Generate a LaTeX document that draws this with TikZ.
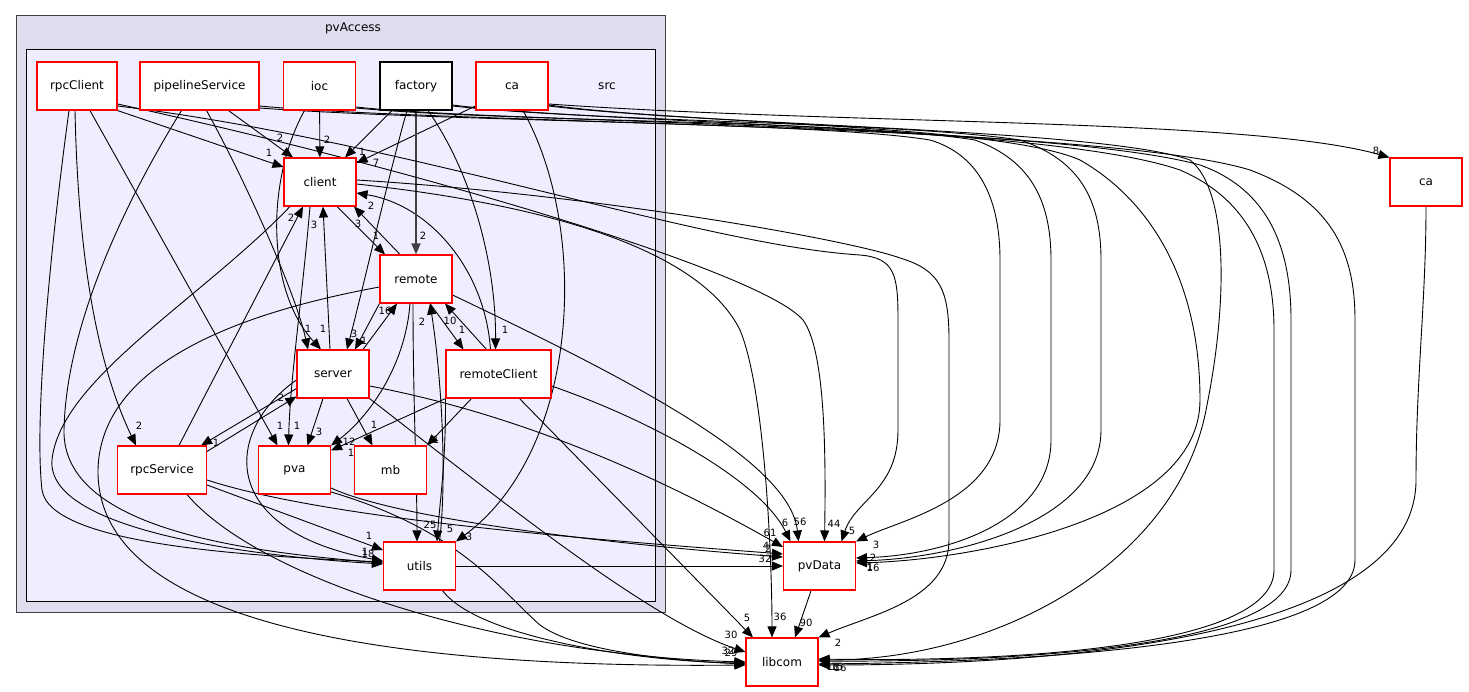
\documentclass[tikz,border=0pt]{standalone}
\usepackage{fontspec}
\setmainfont{DejaVu Sans}
\usetikzlibrary{arrows.meta}

\definecolor{clusterouter}{HTML}{DDDDEE}
\definecolor{clusterinner}{HTML}{EEEEFF}
\definecolor{boxred}{HTML}{FF0000}

\pgfdeclarelayer{bg}
\pgfdeclarelayer{edges}
\pgfsetlayers{bg,edges,main}

\tikzset{
  dirbox/.style={draw=boxred, fill=white, line width=1.1pt, minimum width=72pt, minimum height=48pt, inner sep=0pt, font=\fontsize{12}{14}\selectfont},
  dep/.style={line width=0.9pt, -{Triangle[length=11pt,width=9pt]}},
  thickdep/.style={dep, line width=1.6pt, draw=black!75},
  lbl/.style={font=\fontsize{10}{12}\selectfont, inner sep=0pt},
  clusterlbl/.style={font=\fontsize{12}{14}\selectfont, inner sep=0pt}
}

\begin{document}
\begin{tikzpicture}[x=1pt,y=-1pt]
\useasboundingbox (0,0) rectangle (1469,692);

\begin{pgfonlayer}{bg}
\draw[fill=clusterouter, draw=black!75, line width=1pt] (16,16) rectangle (665,612);
\draw[fill=clusterinner, draw=black, line width=1pt] (26,50) rectangle (655,601);
\end{pgfonlayer}
\node[clusterlbl] (pvAccessLabel) at (353,28) {pvAccess};
\node[clusterlbl] (srcLabel) at (607,86) {src};

\node[dirbox, minimum width=80pt] (rpcClient) at (77,86) {rpcClient};
\node[dirbox, minimum width=119pt] (pipelineService) at (199.5,86) {pipelineService};
\node[dirbox] (ioc) at (319.5,86) {ioc};
\node[dirbox, draw=black] (factory) at (416,86) {factory};
\node[dirbox] (caSrc) at (512,86) {ca};
\node[dirbox] (client) at (320,182) {client};
\node[dirbox] (remote) at (416,279) {remote};
\node[dirbox] (server) at (333,374) {server};
\node[dirbox, minimum width=105pt] (remoteClient) at (498.5,374) {remoteClient};
\node[dirbox, minimum width=89pt] (rpcService) at (162,470) {rpcService};
\node[dirbox] (pva) at (294.5,470) {pva};
\node[dirbox] (mb) at (390.5,470) {mb};
\node[dirbox] (utils) at (419.5,566) {utils};
\node[dirbox] (pvData) at (819.5,566) {pvData};
\node[dirbox] (libcom) at (782,662) {libcom};
\node[dirbox] (caTop) at (1426,182) {ca};

\begin{pgfonlayer}{edges}
\draw[dep] (rpcClient.south east) -- ([yshift=15]client.west) node[lbl] at (269,153) {1};
\draw[dep] ([xshift=29]pipelineService.south) -- ([xshift=-27]client.north) node[lbl] at (280,138) {2};
\draw[dep] (ioc) -- (client) node[lbl] at (327,140) {2};
\draw[dep] ([xshift=-24]factory.south) -- ([xshift=25]client.north) node[lbl] at (362,152) {1};
\draw[dep] ([yshift=-20]caSrc.west) -- ([yshift=19]client.east) node[lbl] at (376,163) {7};
\draw[dep] ([xshift=-8]remoteClient.north) .. controls (485,270) and (430,205) .. ([yshift=-11]client.east) node[lbl] at (371,206) {2};
\draw[dep] ([xshift=17]rpcService.north) -- ([xshift=-17]client.south) node[lbl] at (291,218) {2};
\draw[dep] ([xshift=-3]server.north) -- ([xshift=3]client.south) node[lbl] at (314,225) {3};
\draw[dep] ([xshift=-16]remote.north) -- ([xshift=34]client.south) node[lbl] at (358,224) {3};
\draw[dep] ([xshift=17]client.south) -- ([xshift=-31]remote.north) node[lbl] at (376,236) {1};
\draw[thickdep] (factory) -- (remote) node[lbl] at (423,236) {2};

\draw[dep] ([xshift=7]pipelineService.south) .. controls (240,170) and (295,290) .. ([xshift=-25]server.north) node[lbl] at (308,329) {1};
\draw[dep] ([xshift=-15]ioc.south) .. controls (266,180) and (266,290) .. ([xshift=-12]server.north) node[lbl] at (323,329) {1};
\draw[dep] ([xshift=-9]factory.south) .. controls (390,170) and (365,280) .. ([xshift=14]server.north) node[lbl] at (354,334) {3};
\draw[dep] (remote.south west) -- ([xshift=22]server.north) node[lbl] at (364,341) {1};
\draw[dep] ([xshift=30]server.north) -- ([xshift=-19]remote.south) node[lbl] at (385,311) {16};
\draw[dep] ([yshift=-6]rpcService.north east) -- ([yshift=2]server.south west) node[lbl] at (281,398) {2};
\draw[dep] ([yshift=10]server.south west) -- ([xshift=-6]rpcService.north east) node[lbl] at (216,443) {1};

\draw[dep] ([xshift=14]remote.south) -- ([xshift=-35]remoteClient.north) node[lbl] at (462,330) {1};
\draw[dep] ([xshift=-12]remoteClient.north) -- ([xshift=29]remote.south) node[lbl] at (450,321) {10};
\draw[dep] ([xshift=12]factory.south) .. controls (470,170) and (496,260) .. ([xshift=-3]remoteClient.north) node[lbl] at (505,330) {1};

\draw[dep] ([xshift=-2]rpcClient.south) .. controls (78,250) and (95,360) .. ([xshift=-26]rpcService.north) node[lbl] at (139,426) {2};
\draw[dep] ([xshift=13]rpcClient.south) -- ([xshift=-17]pva.north) node[lbl] at (280,426) {1};
\draw[dep] ([xshift=-10]client.south) .. controls (302,300) and (290,380) .. ([xshift=-6]pva.north) node[lbl] at (297,426) {1};
\draw[dep] ([xshift=-10]server.south) -- ([xshift=13]pva.north) node[lbl] at (319,432) {3};
\draw[dep] ([xshift=-6]remote.south) .. controls (405,370) and (365,420) .. (pva.north east) node[lbl] at (349,442) {12};
\draw[dep] (remoteClient.south west) -- ([yshift=-5]pva.north east) node[lbl] at (351,453) {1};
\draw[dep] ([xshift=14]server.south) -- ([xshift=-18]mb.north) node[lbl] at (374,425) {1};
\draw[dep] ([xshift=-27]remoteClient.south) -- (mb.north east) node[lbl] at (436,440) {1};

\draw[dep] ([xshift=-3]remote.south) .. controls (413,400) and (417,480) .. ([xshift=-2.5]utils.north) node[lbl] at (430,525) {25};
\draw[dep] (remoteClient.south west) .. controls (446,460) and (440,500) .. ([xshift=17.5]utils.north) node[lbl] at (450,529) {5};
\draw[dep] ([xshift=20]utils.north) .. controls (447,480) and (442,380) .. ([xshift=14]remote.south) node[lbl] at (422,322) {2};
\draw[dep] ([xshift=11]caSrc.south) .. controls (590,230) and (580,450) .. (utils.north east) node[lbl] at (469,537) {3};
\draw[dep] ([yshift=-15]rpcService.east) -- ([yshift=16]utils.west) node[lbl] at (369,536) {1};
\draw[dep] ([xshift=-8]rpcClient.south) .. controls (50,250) and (34,420) .. (42,490) .. controls (50,545) and (250,556) .. ([yshift=4]utils.west) node[lbl] at (365,552) {1};
\draw[dep] ([xshift=-18]pipelineService.south) .. controls (120,210) and (66,330) .. (64,430) .. controls (62,530) and (250,552) .. ([yshift=3]utils.west);
\draw[dep] ([xshift=-30]client.south) .. controls (200,300) and (60,380) .. (52,460) .. controls (46,530) and (250,556) .. ([yshift=2]utils.west) node[lbl] at (368,554) {18};
\draw[dep] ([yshift=-6]server.west) .. controls (225,430) and (215,530) .. ([yshift=5]utils.west);

\draw[dep] ([yshift=-12]server.east) .. controls (550,420) and (700,500) .. ([yshift=19]pvData.west) node[lbl] at (770,533) {61};
\draw[dep] ([yshift=-12]remoteClient.east) .. controls (650,420) and (760,480) .. ([xshift=-29]pvData.north) node[lbl] at (785,523) {6};
\draw[dep] ([yshift=-16]remote.east) .. controls (620,375) and (790,460) .. ([xshift=-21]pvData.north) node[lbl] at (800,522) {56};
\draw[dep] ([yshift=-10]rpcService.east) .. controls (330,520) and (600,540) .. ([yshift=12]pvData.west) node[lbl] at (766,546) {4};
\draw[dep] ([yshift=-18]pva.east) .. controls (400,520) and (620,545) .. ([yshift=9]pvData.west) node[lbl] at (768,549) {2};
\draw[dep] (utils) -- (pvData) node[lbl] at (765,559) {32};
\draw[dep] ([yshift=-20]rpcClient.east) .. controls (400,140) and (700,245) .. (860,255) .. controls (895,258) and (898,275) .. (898,320) -- (898,430) .. controls (898,490) and (855,500) .. ([xshift=22]pvData.north) node[lbl] at (852,531) {5};
\draw[dep] ([yshift=-18]rpcClient.east) .. controls (400,165) and (760,270) .. (803,320) .. controls (825,350) and (826,450) .. ([xshift=5]pvData.north) node[lbl] at (834,524) {44};

\draw[dep] ([yshift=2]client.east) .. controls (600,195) and (850,240) .. (900,258) .. controls (940,270) and (949,290) .. (949,340) -- (949,540) .. controls (949,600) and (870,615) .. (libcom.north east) node[lbl] at (838,643) {2};
\draw[dep] ([yshift=-2]client.east) .. controls (550,205) and (700,250) .. (740,330) .. controls (765,390) and (772,560) .. ([xshift=-10]libcom.north) node[lbl] at (780,617) {36};
\draw[dep] ([xshift=21]remoteClient.south) -- ([xshift=-29]libcom.north) node[lbl] at (747,618) {5};
\draw[dep] (pvData) -- ([xshift=13]libcom.north) node[lbl] at (806,623) {90};
\draw[dep] (server.south east) .. controls (500,500) and (650,620) .. ([yshift=10]libcom.west) node[lbl] at (731,635) {30};
\draw[dep] ([xshift=25]rpcService.south) .. controls (260,580) and (500,655) .. (libcom.west) node[lbl] at (728,651) {32};
\draw[dep] ([yshift=-22]pva.east) .. controls (460,530) and (500,590) .. (540,625) .. controls (580,655) and (700,662) .. ([yshift=-2]libcom.west) node[lbl] at (731,653) {29};
\draw[dep] ([xshift=23]utils.south) .. controls (480,640) and (650,662) .. ([yshift=-1]libcom.west);
\draw[dep] ([yshift=-8]remote.west) .. controls (200,320) and (100,380) .. (98,470) .. controls (96,640) and (450,668) .. ([yshift=-3]libcom.west);

\draw[dep] ([yshift=-22]pipelineService.east) .. controls (450,122) and (820,122) .. (930,140) .. controls (980,155) and (1000,200) .. (1000,260) -- (1000,420) .. controls (1000,500) and (900,520) .. (pvData.north east) node[lbl] at (876,545) {3};
\draw[dep] ([yshift=-20]pipelineService.east) .. controls (450,124) and (1100,124) .. (1250,170) .. controls (1330,200) and (1355,250) .. (1355,320) -- (1355,560) .. controls (1355,650) and (1000,662) .. ([yshift=-2]libcom.east);
\draw[dep] ([yshift=-22]ioc.east) .. controls (500,122) and (850,120) .. (975,140) .. controls (1030,160) and (1051,200) .. (1051,260) -- (1051,440) .. controls (1051,520) and (950,555) .. ([yshift=8]pvData.east) node[lbl] at (873,558) {2};
\draw[dep] ([yshift=-21]ioc.east) .. controls (500,123) and (1050,124) .. (1200,165) .. controls (1270,190) and (1291,250) .. (1291,320) -- (1291,570) .. controls (1291,650) and (1000,662) .. ([yshift=1]libcom.east);
\draw[dep] ([yshift=-20]factory.east) .. controls (600,122) and (900,122) .. (1020,140) .. controls (1080,160) and (1101,200) .. (1101,260) -- (1101,430) .. controls (1101,520) and (960,558) .. ([yshift=5]pvData.east) node[lbl] at (873,568) {16};
\draw[dep] ([yshift=-19]factory.east) .. controls (600,124) and (1050,125) .. (1180,170) .. controls (1250,200) and (1274,260) .. (1274,330) -- (1274,570) .. controls (1274,650) and (1000,662) .. ([yshift=3]libcom.east);
\draw[dep] ([yshift=-20]caSrc.east) .. controls (700,124) and (1000,125) .. (1080,160) .. controls (1150,200) and (1200,280) .. (1200,400) .. controls (1200,520) and (970,560) .. ([yshift=3]pvData.east) node[lbl] at (870,567) {1};
\draw[dep] ([yshift=-19]caSrc.east) .. controls (700,126) and (1100,128) .. (1190,160) .. controls (1228,190) and (1228,300) .. (1207,405) .. controls (1180,560) and (1000,660) .. ([yshift=2]libcom.east);
\draw[dep] ([yshift=-18]caSrc.east) .. controls (850,125) and (1250,118) .. (caTop.north west) node[lbl] at (1376,151) {8};
\draw[dep] (caTop.south) .. controls (1426,300) and (1416,380) .. (1416,480) .. controls (1416,640) and (1050,665) .. ([yshift=-3]libcom.east);
\node[lbl] (libcomLabelA) at (833,667) {18};
\node[lbl] (libcomLabelB) at (837,667) {15};
\node[lbl] (libcomLabelC) at (840,668) {16};
\end{pgfonlayer}
\end{tikzpicture}
\end{document}
